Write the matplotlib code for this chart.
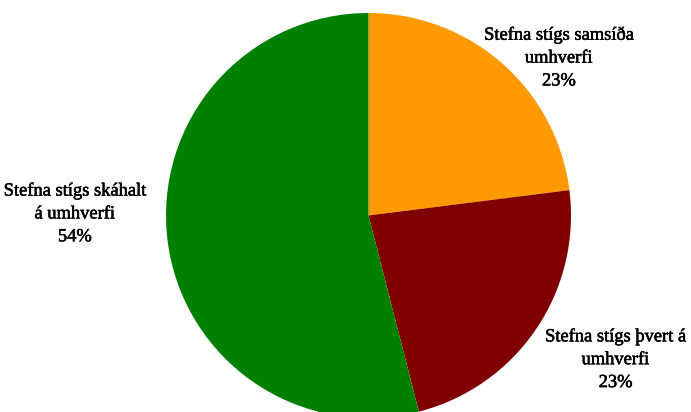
import matplotlib.pyplot as plt
import matplotlib.patheffects as pe

labels = ["Stefna stígs samsíða\numhverfi", "Stefna stígs þvert á\numhverfi", "Stefna stígs skáhalt\ná umhverfi"]
values = [23, 23, 54]
colors = ["#ff9900", "#800000", "#008000"]
# label anchor points (data units, pie radius = 1)
label_pos = [(0.94, 0.78), (1.22, -0.71), (-1.45, 0.01)]

fig = plt.figure(figsize=(6.91, 4.12), dpi=100)
W, H = 691, 412
cx, cy, r = 368.5, 215.5, 202.5
ax = fig.add_axes([(cx - r) / W, (H - cy - r) / H, 2 * r / W, 2 * r / H])

ax.pie(values, colors=colors, startangle=90, counterclock=False, radius=1,
       wedgeprops=dict(linewidth=0))
ax.set_xlim(-1, 1)
ax.set_ylim(-1, 1)
ax.set_aspect("auto")
ax.axis("off")

for lab, v, (x, y) in zip(labels, values, label_pos):
    ax.text(x, y, f"{lab}\n{v}%", ha="center", va="center", fontsize=13.3,
            family="Liberation Serif", linespacing=1.45, clip_on=False,
            path_effects=[pe.withStroke(linewidth=0.4, foreground="black")])

fig.savefig("out.png", dpi=100)
